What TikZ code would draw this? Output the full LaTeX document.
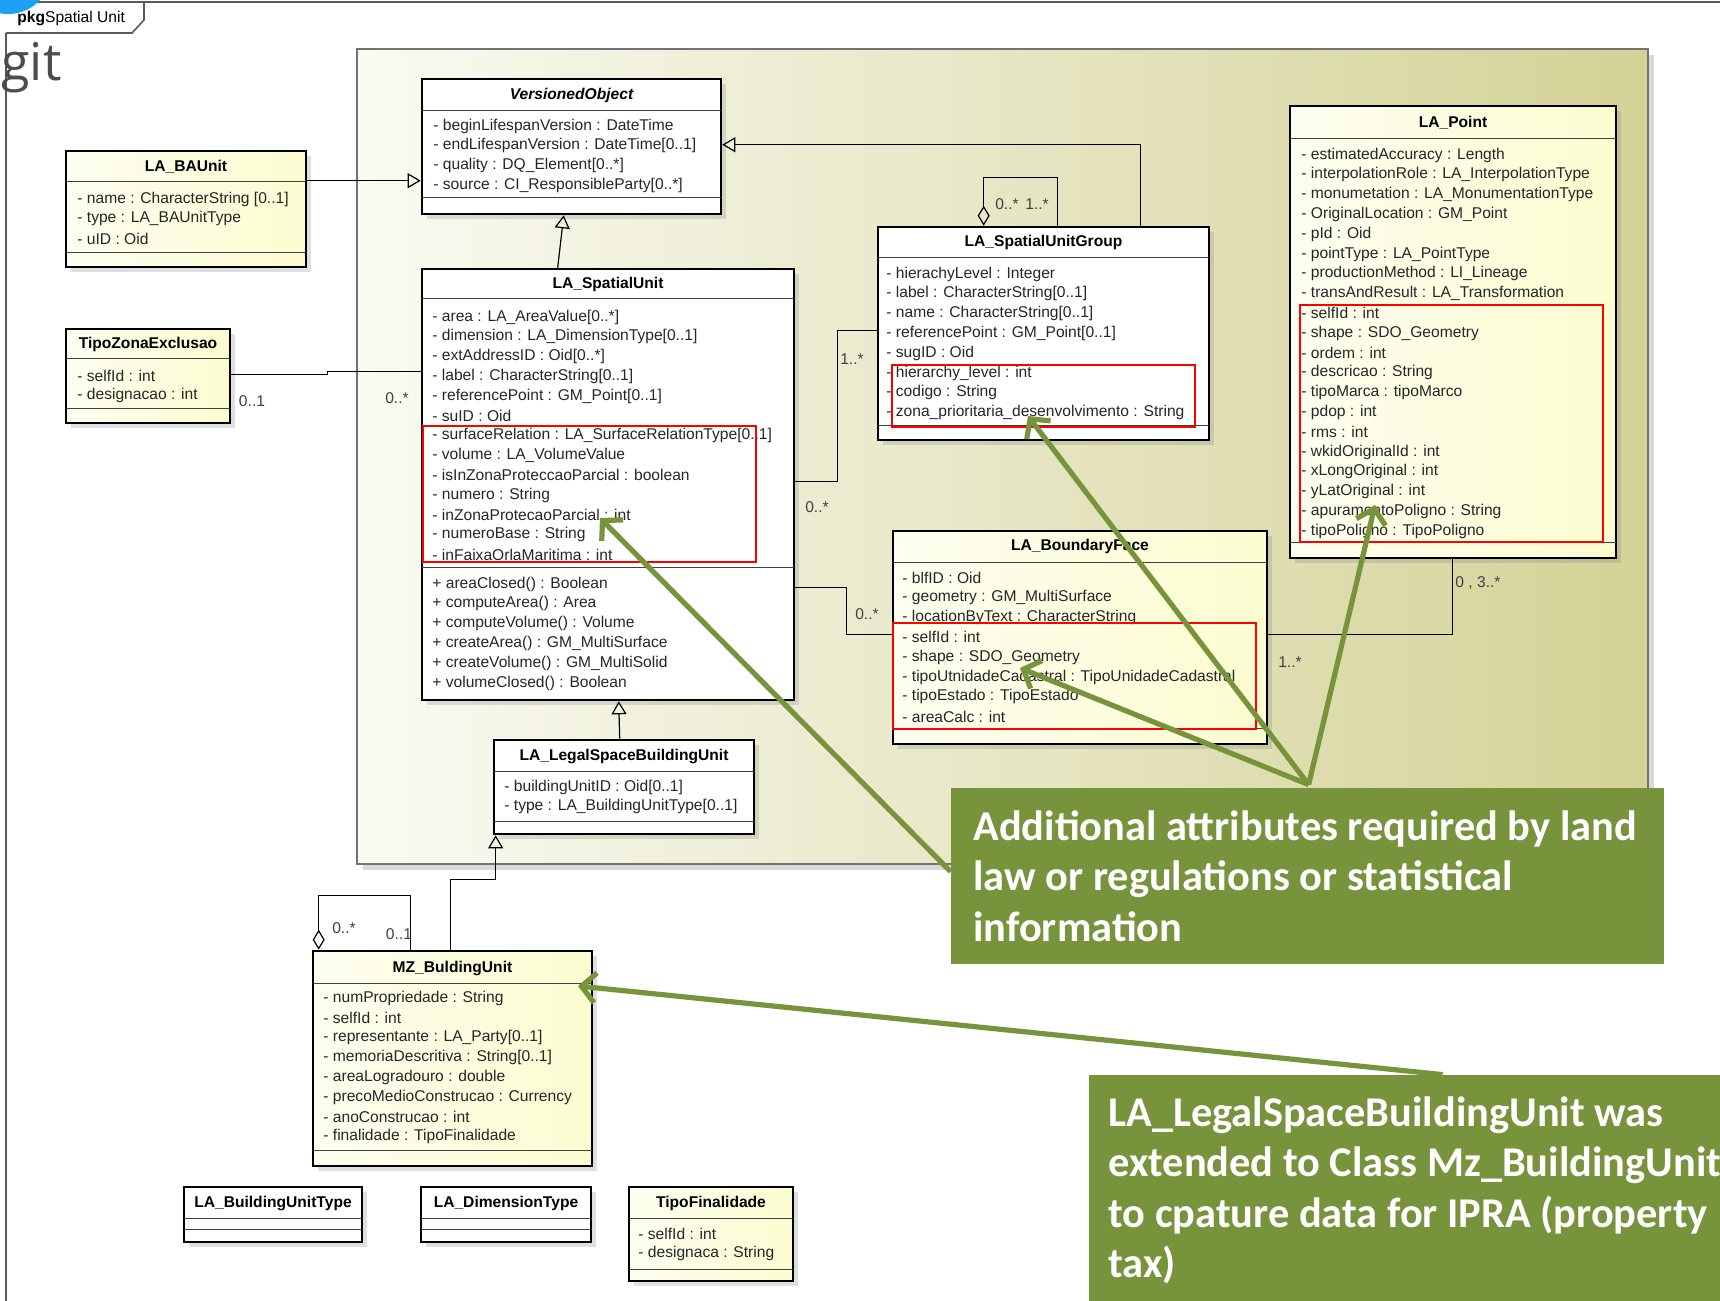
\documentclass[tikz,border=0pt]{standalone}
\usepackage{fontspec}
\setmainfont{Liberation Sans}
\newfontfamily\notefont{Carlito}
\newfontfamily\gitfont{Open Sans}
\usetikzlibrary{arrows.meta,calc,fit,shadows}

\definecolor{notegreen}{RGB}{119,147,60}
\definecolor{pkgleft}{RGB}{250,250,242}
\definecolor{pkgright}{RGB}{212,210,150}
\definecolor{classyellow}{RGB}{252,252,208}
\definecolor{gitblue}{RGB}{29,161,242}

\newcommand{\umlsize}{\fontsize{7.8}{9.9}\selectfont}
\newcommand{\attrlist}[4]{%
  \foreach \txt [count=\k from 0] in {#4}
    \node[attr] (#1-\k) at (#2,{#3+19.8*\k}) {\txt};%
}

\tikzset{
  frameline/.style={draw=black!65, line width=0.8pt},
  pkgarea/.style={draw=black!55, line width=0.6pt, inner sep=0pt, left color=pkgleft, right color=pkgright,
    drop shadow={shadow xshift=3pt, shadow yshift=-3pt, opacity=0.3}},
  classbox/.style={draw=black, line width=1.3pt, fill=white, inner sep=0pt,
    drop shadow={shadow xshift=2.5pt, shadow yshift=-2.5pt, opacity=0.25}},
  yellowbox/.style={classbox, left color=white!70!classyellow, right color=classyellow},
  ctitle/.style={inner sep=0pt, font=\umlsize\bfseries},
  attr/.style={anchor=west, inner sep=0pt, text=black!85, font=\umlsize},
  mult/.style={inner sep=0pt, text=black!75, font=\umlsize},
  compart/.style={line width=0.5pt, draw=black!75},
  assoc/.style={line width=0.6pt},
  gen/.style={line width=0.6pt, arrows={-Triangle[open, length=6.5pt, width=7.5pt]}},
  agg/.style={line width=0.6pt, arrows={Diamond[open, length=10pt, width=6pt]-}},
  redmark/.style={draw=red, line width=1.1pt},
  hint/.style={draw=notegreen, line width=2.6pt, arrows={-Straight Barb[length=7pt, width=15pt]}},
  note/.style={fill=notegreen, inner sep=0pt},
  notetext/.style={anchor=north west, inner sep=0pt, text=white, align=left,
    font=\notefont\bfseries\fontsize{21.2}{25.3}\selectfont},
}

\begin{document}
\begin{tikzpicture}[x=0.5pt, y=-0.5pt]
\useasboundingbox (0,0) rectangle (1720,1301);
\clip (0,0) rectangle (1720,1301);
\fill[white] (0,0) rectangle (1720,1301);

% package frame
\draw[frameline] (6,33) -- (6,1305);
\draw[frameline] (144,2) -- (1725,2);
\draw[frameline] (6,2) -- (144,2) -- (144,20) -- (132,33) -- (6,33);
\node[anchor=west, inner sep=0pt, font=\umlsize] (tab) at (17,18) {\textbf{pkg}Spatial Unit};
\fill[gitblue] (8,-30) circle (22pt);
\node[anchor=base west, inner sep=0pt, text=black!70, font=\gitfont\fontsize{26}{30}\selectfont] (git) at (1,80) {git};

\node[pkgarea, fit={(357,49) (1648,864)}] (pkg) {};

% classes
\node[classbox, fit={(422,79) (721,214)}] (vo) {};
\node[ctitle] (vo-t) at (571.5,95) {\itshape VersionedObject};
\draw[compart] (422,110) -- (721,110) (422,197) -- (721,197);
\attrlist{vo}{433}{126}{{- beginLifespanVersion : DateTime},{- endLifespanVersion : DateTime[0..1]},
  {- quality : DQ\_Element[0..*]},{- source : CI\_ResponsibleParty[0..*]}}

\node[yellowbox, fit={(66,151) (306,267)}] (ba) {};
\node[ctitle] (ba-t) at (186,167) {LA\_BAUnit};
\draw[compart] (66,181) -- (306,181) (66,252) -- (306,252);
\attrlist{ba}{77}{199}{{- name : CharacterString [0..1]},{- type : LA\_BAUnitType},{- uID : Oid}}

\node[yellowbox, fit={(66,329) (230,423)}] (tze) {};
\node[ctitle] (tze-t) at (148,344) {TipoZonaExclusao};
\draw[compart] (66,358) -- (230,358) (66,408) -- (230,408);
\attrlist{tze}{77}{376}{{- selfId : int},{- designacao : int}}

\node[classbox, fit={(422,269) (794,700)}] (su) {};
\node[ctitle] (su-t) at (608,284) {LA\_SpatialUnit};
\draw[compart] (422,298) -- (794,298) (422,567) -- (794,567);
\attrlist{su}{432}{317}{{- area : LA\_AreaValue[0..*]},{- dimension : LA\_DimensionType[0..1]},
  {- extAddressID : Oid[0..*]},{- label : CharacterString[0..1]},{- referencePoint : GM\_Point[0..1]},
  {- suID : Oid},{- surfaceRelation : LA\_SurfaceRelationType[0..1]},{- volume : LA\_VolumeValue},
  {- isInZonaProteccaoParcial : boolean},{- numero : String},{- inZonaProtecaoParcial : int},
  {- numeroBase : String},{- inFaixaOrlaMaritima : int}}
\attrlist{su-op}{432}{584}{{+ areaClosed() : Boolean},{+ computeArea() : Area},{+ computeVolume() : Volume},
  {+ createArea() : GM\_MultiSurface},{+ createVolume() : GM\_MultiSolid},{+ volumeClosed() : Boolean}}

\node[classbox, fit={(878,227) (1209,440)}] (sug) {};
\node[ctitle] (sug-t) at (1043.5,242) {LA\_SpatialUnitGroup};
\draw[compart] (878,257) -- (1209,257) (878,425) -- (1209,425);
\attrlist{sug}{886}{274}{{- hierachyLevel : Integer},{- label : CharacterString[0..1]},
  {- name : CharacterString[0..1]},{- referencePoint : GM\_Point[0..1]},{- sugID : Oid},
  {- hierarchy\_level : int},{- codigo : String},{- zona\_prioritaria\_desenvolvimento : String}}

\node[yellowbox, fit={(1290,106) (1616,558)}] (lap) {};
\node[ctitle] (lap-t) at (1453,123) {LA\_Point};
\draw[compart] (1290,138) -- (1616,138) (1290,542) -- (1616,542);
\attrlist{lap}{1301}{155}{{- estimatedAccuracy : Length},{- interpolationRole : LA\_InterpolationType},
  {- monumetation : LA\_MonumentationType},{- OriginalLocation : GM\_Point},{- pId : Oid},
  {- pointType : LA\_PointType},{- productionMethod : LI\_Lineage},{- transAndResult : LA\_Transformation},
  {- selfId : int},{- shape : SDO\_Geometry},{- ordem : int},{- descricao : String},
  {- tipoMarca : tipoMarco},{- pdop : int},{- rms : int},{- wkidOriginalId : int},
  {- xLongOriginal : int},{- yLatOriginal : int},{- apuramentoPoligno : String},{- tipoPoligno : TipoPoligno}}

\node[yellowbox, fit={(893,531) (1267,744)}] (bf) {};
\node[ctitle] (bf-t) at (1080,546) {LA\_BoundaryFace};
\draw[compart] (893,562) -- (1267,562) (893,728) -- (1267,728);
\attrlist{bf}{902}{578}{{- blfID : Oid},{- geometry : GM\_MultiSurface},{- locationByText : CharacterString},
  {- selfId : int},{- shape : SDO\_Geometry},{- tipoUtnidadeCadastral : TipoUnidadeCadastral},
  {- tipoEstado : TipoEstado},{- areaCalc : int}}

\node[classbox, fit={(494,740) (754,834)}] (lsbu) {};
\node[ctitle] (lsbu-t) at (624,756) {LA\_LegalSpaceBuildingUnit};
\draw[compart] (494,771) -- (754,771) (494,821) -- (754,821);
\attrlist{lsbu}{504}{787}{{- buildingUnitID : Oid[0..1]},{- type : LA\_BuildingUnitType[0..1]}}

\node[yellowbox, fit={(313,951) (592,1166)}] (mz) {};
\node[ctitle] (mz-t) at (452.5,968) {MZ\_BuldingUnit};
\draw[compart] (313,983) -- (592,983) (313,1150) -- (592,1150);
\attrlist{mz}{323}{998}{{- numPropriedade : String},{- selfId : int},{- representante : LA\_Party[0..1]},
  {- memoriaDescritiva : String[0..1]},{- areaLogradouro : double},{- precoMedioConstrucao : Currency},
  {- anoConstrucao : int},{- finalidade : TipoFinalidade}}

\node[classbox, fit={(184,1187) (362,1242)}] (but) {};
\node[ctitle] (but-t) at (273,1203) {LA\_BuildingUnitType};
\draw[compart] (184,1218) -- (362,1218) (184,1229) -- (362,1229);

\node[classbox, fit={(421,1187) (591,1242)}] (dt) {};
\node[ctitle] (dt-t) at (506,1203) {LA\_DimensionType};
\draw[compart] (421,1218) -- (591,1218) (421,1229) -- (591,1229);

\node[yellowbox, fit={(629,1187) (793,1281)}] (tf) {};
\node[ctitle] (tf-t) at (711,1203) {TipoFinalidade};
\draw[compart] (629,1218) -- (793,1218) (629,1269) -- (793,1269);
\attrlist{tf}{638}{1234}{{- selfId : int},{- designaca : String}}

% connectors
\draw[gen] ($(ba.north east)+(0,31)$) -- ($(vo.north west)+(0,103)$);
\draw[gen] ($(su.north west)+(137,0)$) -- ($(vo.south west)+(143,0)$);
\draw[gen] ($(sug.north west)+(264,0)$) |- ($(vo.north east)+(0,67)$);
\draw[agg] ($(sug.north west)+(107,0)$) -- ++(0,-48) -| ($(sug.north west)+(181,0)$);
\draw[assoc] ($(tze.north east)+(0,47)$) -- ++(96,0) -- ++(0,-3) -- ($(su.north west)+(0,104)$);
\draw[assoc] ($(su.north east)+(0,214)$) -- ++(42,0) |- ($(sug.north west)+(0,105)$);
\draw[assoc] ($(su.north east)+(0,320)$) -- ++(51,0) |- ($(bf.north west)+(0,105)$);
\draw[assoc] ($(bf.north east)+(0,105)$) -| ($(lap.south west)+(164,0)$);
\draw[gen] ($(lsbu.north west)+(127,0)$) -- ($(su.south west)+(198,0)$);
\draw[gen] ($(mz.north west)+(139,0)$) -- ++(0,-70) -| ($(lsbu.south west)+(3,0)$);
\draw[agg] ($(mz.north west)+(7,0)$) -- ++(0,-54) -| ($(mz.north west)+(99,0)$);

\node[mult] (m-tze) at (252,401) {0..1};
\node[mult] (m-su1) at (397,398) {0..*};
\node[mult] (m-sug) at (852,359) {1..*};
\node[mult] (m-su2) at (817,507) {0..*};
\node[mult] (m-bf1) at (867,614) {0..*};
\node[mult] (m-bf2) at (1290,662) {1..*};
\node[mult, anchor=west] (m-lap) at (1455,583) {0 , 3..*};
\node[mult] (m-sugl) at (1007,204) {0..*};
\node[mult] (m-sugr) at (1037,204) {1..*};
\node[mult] (m-mzl) at (344,928) {0..*};
\node[mult] (m-mzr) at (399,934) {0..1};

% added attributes
\draw[redmark] (423,426) rectangle (756,562);
\draw[redmark] (892,365) rectangle (1195,427);
\draw[redmark] (1300,305) rectangle (1603,542);
\draw[redmark] (893,623) rectangle (1256,729);

% notes
\node[note, fit={(951,788) (1664,964)}] (note1) {};
\node[notetext] (note1-t) at (973,810) {Additional attributes required by land\\law or regulations or statistical\\information};
\node[note, fit={(1089,1075) (1730,1310)}] (note2) {};
\node[notetext] (note2-t) at (1108,1096) {LA\_LegalSpaceBuildingUnit was\\extended to Class Mz\_BuildingUnit\\to cpature data for IPRA (property\\tax)};

\coordinate (fork) at ($(note1.north west)+(358,-3)$);
\coordinate (tip-su) at (600,518);
\coordinate (tip-sug) at (1028,416);
\coordinate (tip-bf) at (1020,668);
\coordinate (tip-lap) at (1375,505);
\coordinate (tip-mz) at (578,986);
\draw[hint] ($(note1.north west)+(0,84)$) -- (tip-su);
\draw[hint] (fork) -- (tip-sug);
\draw[hint] (fork) -- (tip-bf);
\draw[hint] (fork) -- (tip-lap);
\draw[hint] ($(note2.north west)+(354,0)$) -- (tip-mz);
\end{tikzpicture}
\end{document}
